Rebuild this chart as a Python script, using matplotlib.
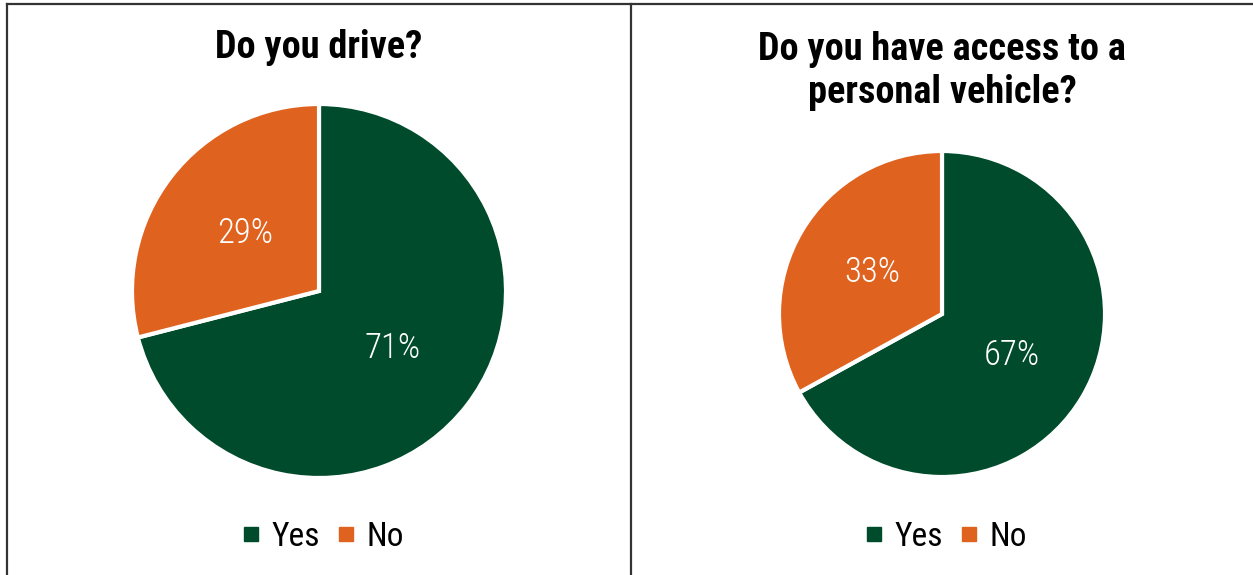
import matplotlib
matplotlib.use("Agg")
import matplotlib.pyplot as plt
from matplotlib.lines import Line2D

plt.rcParams["font.family"] = ["Roboto Condensed", "Archivo Narrow", "DejaVu Sans"]

categories = ["Yes", "No"]
drive_values = [71, 29]
access_values = [67, 33]
titles = ["Do you drive?", "Do you have access to a\npersonal vehicle?"]
colors = ["#004B2C", "#E0621F"]

W, H = 1253, 575
fig = plt.figure(figsize=(W / 100, H / 100), dpi=100)

# panel layout in pixels: (left, right, pie centre x, pie centre y, radius, title y)
panels = [
    (0, 630, 319, 291, 187, 47, drive_values, titles[0]),
    (630, W, 942, 314, 163, 71, access_values, titles[1]),
]

for x0, x1, cx, cy, r, ty, vals, title in panels:
    ax = fig.add_axes([x0 / W, 0, (x1 - x0) / W, 1])
    ax.set_xlim(x0, x1)
    ax.set_ylim(H, 0)
    ax.set_aspect("equal")
    ax.axis("off")
    # y axis is flipped, so startangle -90 is the top and counterclock runs clockwise on screen
    wedges, texts, autotexts = ax.pie(
        vals, colors=colors, center=(cx, cy), radius=r, startangle=-90,
        counterclock=True, autopct="%d%%", pctdistance=0.5,
        wedgeprops=dict(edgecolor="white", linewidth=3),
        textprops=dict(color="white", fontsize=25, fontweight="light"))
    ax.set_xlim(x0, x1)
    ax.set_ylim(H, 0)
    ax.text(cx, ty, title, ha="center", va="center", fontsize=27.5,
            fontweight="bold", linespacing=1.22)
    handles = [Line2D([], [], marker="s", linestyle="none", markersize=10,
                      markerfacecolor=c, markeredgecolor=c) for c in colors]
    ax.legend(handles, categories, loc="center", ncol=2, frameon=False,
              bbox_to_anchor=((cx - x0) / (x1 - x0), 1 - 537 / H),
              prop=dict(size=24), handletextpad=0.1,
              columnspacing=0.3, handlelength=1.0)

# panel borders
for xs, ys in [([7, 7], [4, H]), ([7, W], [4, 4]), ([630.5, 630.5], [4, H])]:
    fig.add_artist(Line2D([x / W for x in xs], [1 - y / H for y in ys],
                          color="#333333", linewidth=1.6))

fig.savefig("out.png", dpi=100, facecolor="white")
